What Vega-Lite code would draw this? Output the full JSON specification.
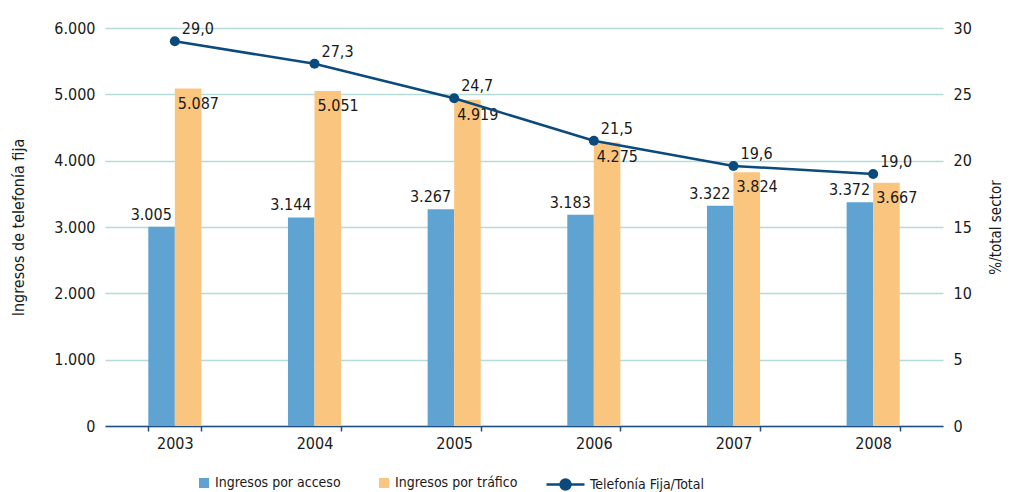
{
  "$schema": "https://vega.github.io/schema/vega-lite/v6.json",
  "width": 838,
  "height": 398,
  "autosize": {"type": "none"},
  "padding": {"left": 105, "top": 28, "right": 67, "bottom": 66},
  "config": {
    "locale": {"number": {"decimal": ",", "thousands": ".", "grouping": [3], "currency": ["", " €"]}},
    "font": "DejaVu Sans Condensed, sans-serif",
    "view": {"stroke": null},
    "axis": {
      "labelFont": "DejaVu Sans Condensed, sans-serif",
      "labelFontSize": 16,
      "labelColor": "#1a1a1a",
      "titleFont": "DejaVu Sans Condensed, sans-serif",
      "titleFontSize": 16,
      "titleFontWeight": "normal",
      "titleColor": "#1a1a1a"
    },
    "legend": {
      "labelFont": "DejaVu Sans Condensed, sans-serif",
      "labelFontSize": 14,
      "labelColor": "#1a1a1a"
    },
    "text": {"font": "DejaVu Sans Condensed, sans-serif", "fontSize": 16, "fill": "#1a1a1a"}
  },
  "datasets": {
    "ingresos": [
      {"anio": "2003", "serie": "Ingresos por acceso", "valor": 3005},
      {"anio": "2003", "serie": "Ingresos por tráfico", "valor": 5087},
      {"anio": "2004", "serie": "Ingresos por acceso", "valor": 3144},
      {"anio": "2004", "serie": "Ingresos por tráfico", "valor": 5051},
      {"anio": "2005", "serie": "Ingresos por acceso", "valor": 3267},
      {"anio": "2005", "serie": "Ingresos por tráfico", "valor": 4919},
      {"anio": "2006", "serie": "Ingresos por acceso", "valor": 3183},
      {"anio": "2006", "serie": "Ingresos por tráfico", "valor": 4275},
      {"anio": "2007", "serie": "Ingresos por acceso", "valor": 3322},
      {"anio": "2007", "serie": "Ingresos por tráfico", "valor": 3824},
      {"anio": "2008", "serie": "Ingresos por acceso", "valor": 3372},
      {"anio": "2008", "serie": "Ingresos por tráfico", "valor": 3667}
    ],
    "cuota": [
      {"anio": "2003", "pct": 29.0},
      {"anio": "2004", "pct": 27.3},
      {"anio": "2005", "pct": 24.7},
      {"anio": "2006", "pct": 21.5},
      {"anio": "2007", "pct": 19.6},
      {"anio": "2008", "pct": 19.0}
    ]
  },
  "layer": [
    {
      "data": {"name": "ingresos"},
      "encoding": {
        "x": {
          "field": "anio",
          "type": "nominal",
          "scale": {"paddingInner": 0.62, "paddingOuter": 0.31},
          "axis": {
            "title": null,
            "labelAngle": 0,
            "labelPadding": 4,
            "domainColor": "#1f4e80",
            "domainWidth": 1.5,
            "tickColor": "#1f4e80",
            "tickWidth": 1.5,
            "tickSize": 5,
            "tickBand": "extent",
            "grid": false
          }
        },
        "y": {
          "field": "valor",
          "type": "quantitative",
          "scale": {"domain": [0, 6000], "nice": false},
          "axis": {
            "title": "Ingresos de telefonía fija",
            "values": [0, 1000, 2000, 3000, 4000, 5000, 6000],
            "format": ",.0f",
            "grid": true,
            "gridColor": "#b5dcd8",
            "gridWidth": 1.5,
            "domain": false,
            "ticks": false,
            "labelPadding": 10,
            "titlePadding": 27
          }
        }
      },
      "layer": [
        {
          "mark": {"type": "bar"},
          "encoding": {
            "xOffset": {
              "field": "serie",
              "type": "nominal",
              "sort": ["Ingresos por acceso", "Ingresos por tráfico"],
              "scale": {"paddingInner": 0, "paddingOuter": 0}
            },
            "fill": {
              "field": "serie",
              "type": "nominal",
              "scale": {"domain": ["Ingresos por acceso", "Ingresos por tráfico"], "range": ["#5fa3d3", "#fac57f"]},
              "legend": {
                "orient": "none",
                "legendX": 92,
                "legendY": 448,
                "direction": "horizontal",
                "title": null,
                "symbolType": "square",
                "symbolSize": 100,
                "symbolStrokeWidth": 0,
                "labelOffset": 4,
                "columnPadding": 36,
                "padding": 0
              }
            }
          }
        },
        {
          "transform": [{"filter": "datum.serie === 'Ingresos por acceso'"}],
          "mark": {"type": "text", "align": "right", "baseline": "alphabetic", "dx": -3, "dy": -7},
          "encoding": {"text": {"field": "valor", "type": "quantitative", "format": ",.0f"}}
        },
        {
          "transform": [{"filter": "datum.serie === 'Ingresos por tráfico'"}],
          "mark": {"type": "text", "align": "left", "baseline": "top", "dx": 3, "dy": 7},
          "encoding": {"text": {"field": "valor", "type": "quantitative", "format": ",.0f"}}
        }
      ]
    },
    {
      "data": {"name": "cuota"},
      "encoding": {
        "x": {"field": "anio", "type": "nominal"},
        "y": {
          "field": "pct",
          "type": "quantitative",
          "scale": {"domain": [0, 30], "nice": false},
          "axis": {
            "orient": "right",
            "title": "%/total sector",
            "values": [0, 5, 10, 15, 20, 25, 30],
            "format": "d",
            "grid": false,
            "domain": false,
            "ticks": false,
            "labelPadding": 10,
            "titleAngle": 270,
            "titleFontSize": 15,
            "titlePadding": 32
          }
        }
      },
      "layer": [
        {
          "mark": {"type": "line", "strokeWidth": 2.5},
          "encoding": {
            "stroke": {
              "datum": "Telefonía Fija/Total",
              "scale": {"range": ["#0b4a7d"]},
              "legend": {
                "orient": "none",
                "legendX": 440,
                "legendY": 436,
                "title": null,
                "symbolType": "M-1,0H1M-0.26,0A0.26,0.26,0,1,1,0.26,0A0.26,0.26,0,1,1,-0.26,0Z",
                "symbolSize": 1444,
                "symbolStrokeWidth": 2.5,
                "symbolFillColor": "#0b4a7d",
                "labelOffset": 4,
                "padding": 0
              }
            }
          }
        },
        {
          "mark": {"type": "point", "filled": true, "size": 100, "opacity": 1, "color": "#0b4a7d"}
        },
        {
          "mark": {"type": "text", "align": "left", "baseline": "alphabetic", "dx": 7, "dy": -7},
          "encoding": {"text": {"field": "pct", "type": "quantitative", "format": ".1f"}}
        }
      ]
    }
  ],
  "resolve": {"scale": {"y": "independent"}}
}
